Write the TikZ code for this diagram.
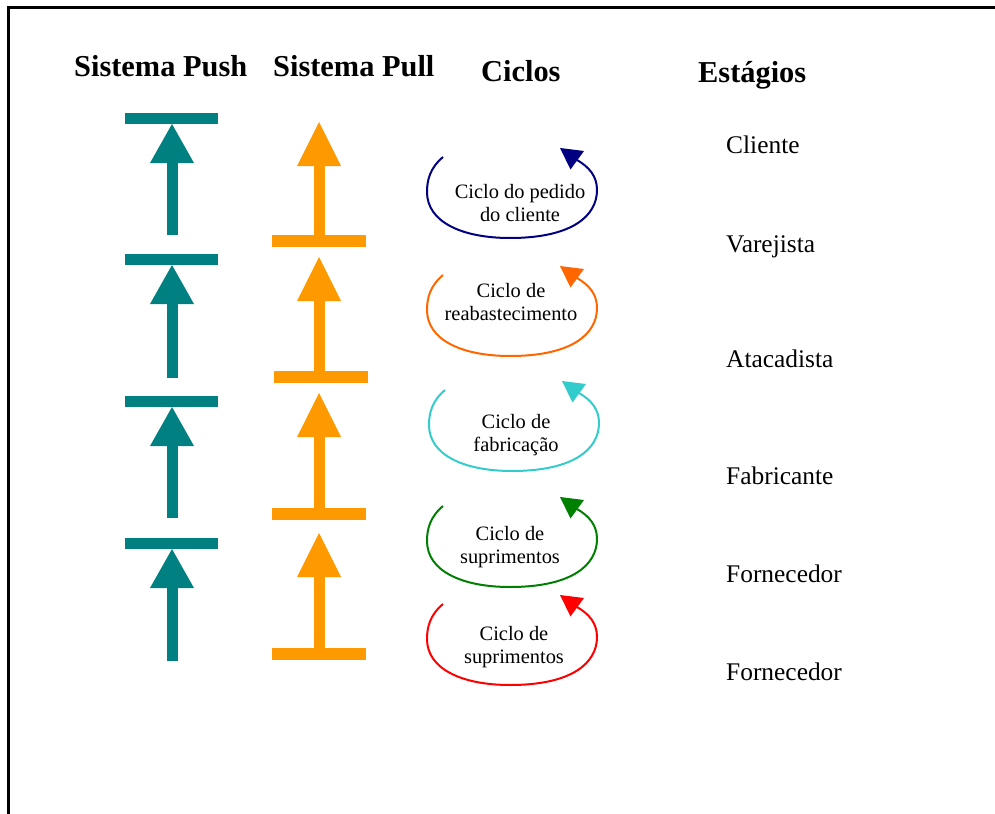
\documentclass[tikz,border=0pt]{standalone}
\usepackage{fontspec}
\setmainfont{Liberation Serif}
\definecolor{pushc}{HTML}{008080}
\definecolor{pullc}{HTML}{FF9900}
\definecolor{cycA}{HTML}{000080}
\definecolor{cycB}{HTML}{FF6600}
\definecolor{cycC}{HTML}{33CCCC}
\definecolor{cycD}{HTML}{008000}
\definecolor{cycE}{HTML}{FF0000}
\newcommand\twolines[2]{\begin{tabular}[t]{@{}c@{}}#1\\#2\end{tabular}}
\tikzset{
  header/.style={font=\fontsize{30.5}{36}\selectfont\bfseries, inner sep=0pt, anchor=base west},
  stage/.style={font=\fontsize{25.5}{30}\selectfont, inner sep=0pt, anchor=base west},
  cyclabel/.style={font=\fontsize{20.5}{24}\selectfont, inner sep=0pt, anchor=base},
  cycline/.style={line width=2bp},
}
\begin{document}
\begin{tikzpicture}[x=1bp,y=-1bp]
\useasboundingbox (0,0) rectangle (995,814);
% frame
\draw[line width=2.2bp] (995,7.5) -- (8.5,7.5) -- (8.5,814);

% column headers
\node[header] (hpush) at (74,77) {Sistema Push};
\node[header] (hpull) at (273,77) {Sistema Pull};
\node[header] (hcic) at (481,82) {Ciclos};
\node[header] (hest) at (698,83) {Estágios};

% stages
\node[stage] (s1) at (726,153) {Cliente};
\node[stage] (s2) at (726,252) {Varejista};
\node[stage] (s3) at (726,367) {Atacadista};
\node[stage] (s4) at (726,484) {Fabricante};
\node[stage] (s5) at (726,582) {Fornecedor};
\node[stage] (s6) at (726,680) {Fornecedor};

% push system: bar on top, arrow pushing up into it
\foreach \yb/\ys in {113/235, 254/378, 396/518, 538/661}{
  \fill[pushc] (125,\yb) rectangle (218,\yb+11);
  \fill[pushc] (172,\yb+11) -- (194,\yb+50) -- (150,\yb+50) -- cycle;
  \fill[pushc] (166.5,\yb+49) rectangle (177.5,\ys);
}

% pull system: bar at the bottom, arrow pulled up from it
\foreach \yt/\yb/\xl in {122/235/272, 257/371/274, 393/508/272, 533/648/272}{
  \fill[pullc] (319,\yt) -- (341,\yt+44) -- (297,\yt+44) -- cycle;
  \fill[pullc] (313.5,\yt+43) rectangle (324.5,\yb+1);
  \fill[pullc] (\xl,\yb) rectangle (\xl+94,\yb+12);
}

% cycles: open loop with a triangular head at its upper right end
\foreach \dx/\dy/\c in {0/0/cycA, 0/118/cycB, 2/233/cycC, 0/349/cycD, 0/447/cycE}{
  \begin{scope}[shift={(\dx,\dy)}]
    \draw[cycline, draw=\c] (443,157) .. controls (430,168) and (427,180) .. (427,192)
      .. controls (427,222) and (462,238) .. (510,238)
      .. controls (572,238) and (597,216) .. (597,190)
      .. controls (597,176) and (589,167) .. (577,160);
    \fill[\c] (560,148) -- (584,151) -- (570.5,169.5) -- cycle;
  \end{scope}
}
\node[cyclabel] (c1) at (520,198) {\twolines{Ciclo do pedido}{do cliente}};
\node[cyclabel] (c2) at (511,297) {\twolines{Ciclo de}{reabastecimento}};
\node[cyclabel] (c3) at (516,428) {\twolines{Ciclo de}{fabricação}};
\node[cyclabel] (c4) at (510,540) {\twolines{Ciclo de}{suprimentos}};
\node[cyclabel] (c5) at (514,640) {\twolines{Ciclo de}{suprimentos}};
\end{tikzpicture}
\end{document}
